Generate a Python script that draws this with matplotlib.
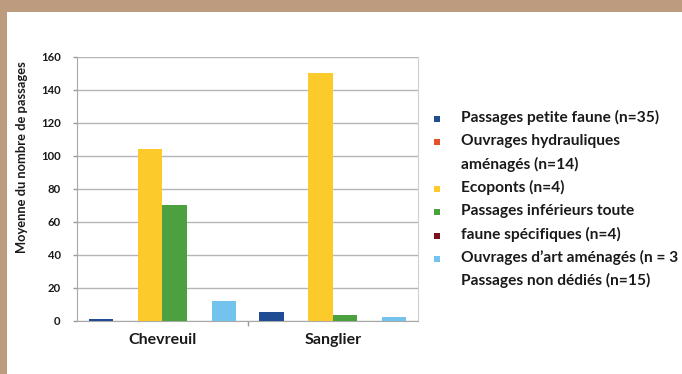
import numpy as np
import matplotlib
matplotlib.use("Agg")
import matplotlib.pyplot as plt
from matplotlib.patches import Rectangle

# data
categories = ["Chevreuil", "Sanglier"]
petite_faune = [1, 5]
hydrauliques = [0, 0]
ecoponts = [104, 150]
inferieurs = [70, 3.5]
specifiques = [0, 0]
ouvrages_art = [12, 2.5]
series = [petite_faune, hydrauliques, ecoponts, inferieurs, specifiques, ouvrages_art]
colors = ["#1f4c93", "#e8502a", "#fccb2b", "#4ca03f", "#7a1320", "#73c3ec"]
yticks = [0, 20, 40, 60, 80, 100, 120, 140, 160]

# legend text as it is laid out in the picture (8 lines, 6 markers)
legend_lines = ["Passages petite faune (n=35)",
                "Ouvrages hydrauliques",
                "aménagés (n=14)",
                "Ecoponts (n=4)",
                "Passages inférieurs toute",
                "faune spécifiques (n=4)",
                "Ouvrages d\u2019art aménagés (n = 3",
                "Passages non dédiés (n=15)"]
marker_rows = [0, 1, 3, 4, 5, 6]

plt.rcParams['font.family'] = ['Lato', 'DejaVu Sans']
plt.rcParams['font.weight'] = 'bold'

W, H = 682, 374
fig = plt.figure(figsize=(W / 100, H / 100), dpi=100)
fig.patch.set_facecolor("#bd9b7f")
fig.add_artist(Rectangle((7 / W, 0), 1, 1 - 12 / H, transform=fig.transFigure,
                         facecolor="white", edgecolor="none", zorder=0))

ax = fig.add_axes([77.3 / W, 1 - 320.7 / H, (418 - 77.3) / W, (320.7 - 56.7) / H])
ax.set_facecolor("white")

x = np.arange(len(categories))
bw = 0.144
for i, (vals, c) in enumerate(zip(series, colors)):
    ax.bar(x + (i - 2.5) * bw, vals, width=bw, color=c, zorder=3)

ax.set_xlim(-0.5, 1.5)
ax.set_ylim(0, 160)
ax.set_yticks(yticks)
ax.yaxis.grid(True, color="#b5b5b5", linewidth=1, zorder=0)
ax.set_xticks(x)
ax.set_xticklabels(categories, fontsize=11.5, fontweight='bold', color="#1a1a1a")
ax.set_xticks([0.5], minor=True)
ax.tick_params(axis='x', which='major', length=0, pad=9)
ax.tick_params(axis='x', which='minor', length=3.5, color="#9a9a9a", width=1)
ax.tick_params(axis='y', length=3, color="#9a9a9a", width=1, pad=9, labelsize=8.2,
               labelcolor="#1a1a1a")
for lab in ax.get_yticklabels():
    lab.set_fontweight('bold')
ax.spines["top"].set_visible(False)
for s in ["left", "bottom"]:
    ax.spines[s].set_color("#a8a8a8")
ax.spines["right"].set_color("#d0d0d0")

fig.text(22 / W, 1 - 157 / H, "Moyenne du nombre de passages", rotation=90,
         ha="center", va="center", fontsize=9.3, fontweight='bold', color="#1a1a1a")

# legend drawn line by line
y0, dy = 117.5, 23.3
for k, line in enumerate(legend_lines):
    fig.text(461 / W, 1 - (y0 + k * dy) / H, line, ha="left", va="center",
             fontsize=11.2, fontweight='bold', color="#1a1a1a")
for row, c in zip(marker_rows, colors):
    yc = y0 + row * dy + 1.5
    fig.add_artist(Rectangle(((437 - 3) / W, 1 - (yc + 3) / H), 6 / W, 6 / H,
                             transform=fig.transFigure, facecolor=c, edgecolor="none"))

fig.savefig("out.png", dpi=100, facecolor=fig.get_facecolor())
